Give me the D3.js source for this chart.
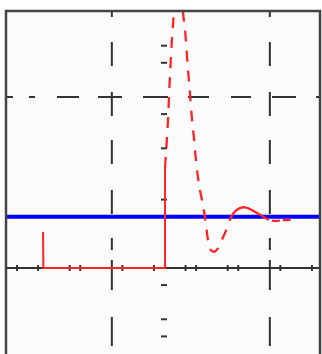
<!DOCTYPE html>
<html><head><meta charset="utf-8">
<script src="https://cdn.jsdelivr.net/npm/d3@7"></script>
<style>html,body{margin:0;padding:0;background:#fff;}svg{display:block;}</style>
</head><body>
<svg id="c" width="322" height="354"></svg>
<script>
// Oscilloscope-style trace, units in divisions
const redTime  = [-2.306,-2.30,0.01,0.01,0.066,0.10,0.14,0.18,0.265,0.35,0.39,0.446,0.484,0.52,0.56,0.598,0.636,0.674,0.73,0.79,0.825,0.88,0.94,1.016,1.09,1.17,1.24,1.32,1.43,1.53,1.62,1.74,1.85,1.96,2.10,2.23,2.34,2.44];
const redValue = [0.42,0,0,1.17,1.73,2.20,2.67,3.0,3.84,3.0,2.78,2.32,2.04,1.75,1.52,1.26,1.06,0.91,0.74,0.50,0.33,0.21,0.19,0.23,0.33,0.44,0.56,0.65,0.70,0.71,0.69,0.65,0.61,0.57,0.55,0.56,0.56,0.57];
const blueLevel = 0.6;
const xDomain = [-3, 3];
const yDomain = [0, 3];
const gridX = [-1, 2];          // dashed vertical cursor lines
const gridY = [2];              // dash-dot horizontal line
const axisXTicks = [-2.8,-2.4,-1.8,-1.6,-0.8,-0.2,0.4,0.6,1.2,1.4,2.2,2.8];
const axisYTicks = [2.6,2.4,1.8,1.4,0.8,-0.2,-0.6,-0.8];

const svg = d3.select("#c");
const x = d3.scaleLinear().domain(xDomain).range([6.5, 322.5]);
const y = d3.scaleLinear().domain(yDomain).range([268, 11.5]);
const L = 6, T = 11, R = 320, B = 360;

svg.append("rect").attr("x", L).attr("y", T).attr("width", R - L).attr("height", B - T).attr("fill", "#fbfbfb");
svg.append("clipPath").attr("id", "clp").append("rect").attr("x", L).attr("y", T).attr("width", R - L).attr("height", B - T);

const g = svg.append("g").attr("clip-path", "url(#clp)");

// vertical dashed lines
g.selectAll(".gx").data(gridX).join("line")
  .attr("x1", d => x(d)).attr("x2", d => x(d)).attr("y1", T).attr("y2", B)
  .attr("stroke", "#333").attr("stroke-width", 2)
  .attr("stroke-dasharray", "6,25,24,26,24,24,24,26,24,24,12,10,30,27,29,100");
// dash-dot horizontal
g.selectAll(".gy").data(gridY).join("line")
  .attr("x1", L).attr("x2", R).attr("y1", d => y(d)).attr("y2", d => y(d))
  .attr("stroke", "#333").attr("stroke-width", 2)
  .attr("stroke-dasharray", "7,16,6,22,22,19,24,21,25,20,21,22,20,21,24,20,4,50");

// horizontal axis line
g.append("line").attr("x1", L).attr("x2", R).attr("y1", y(0)).attr("y2", y(0))
  .attr("stroke", "#333").attr("stroke-width", 2);
g.selectAll(".tx").data(axisXTicks).join("line")
  .attr("x1", d => x(d)).attr("x2", d => x(d)).attr("y1", y(0) - 3).attr("y2", y(0) + 3)
  .attr("stroke", "#333").attr("stroke-width", 2);
// center vertical axis minor ticks
g.selectAll(".ty").data(axisYTicks).join("line")
  .attr("x1", x(0) - 3.5).attr("x2", x(0) + 2.5).attr("y1", d => y(d)).attr("y2", d => y(d))
  .attr("stroke", "#333").attr("stroke-width", 2);

// blue trace
g.append("line").attr("x1", L).attr("x2", R).attr("y1", y(blueLevel)).attr("y2", y(blueLevel))
  .attr("stroke", "#0000ff").attr("stroke-width", 4);

// red trace split into solid/dashed portions
const pts = redTime.map((t, i) => [t, redValue[i]]);
const line = d3.line().x(d => x(d[0])).y(d => y(d[1]));
const smooth = d3.line().x(d => x(d[0])).y(d => y(d[1])).curve(d3.curveCatmullRom.alpha(0.5));
const seg = (a, b) => pts.slice(a, b + 1);
const red = "#ff2424";
g.append("path").attr("d", line(seg(0, 3))).attr("fill", "none").attr("stroke", red).attr("stroke-width", 2);
g.append("path").attr("d", smooth(seg(3, 26))).attr("fill", "none").attr("stroke", red).attr("stroke-width", 2.3)
  .attr("stroke-dasharray", "11,9");
g.append("path").attr("d", smooth(seg(26, 32))).attr("fill", "none").attr("stroke", red).attr("stroke-width", 2.3);
g.append("path").attr("d", smooth(seg(32, 37))).attr("fill", "none").attr("stroke", red).attr("stroke-width", 2.3)
  .attr("stroke-dasharray", "8,3");

// frame (top, left, right)
svg.append("path").attr("d", `M${L},${B}V${T}H${R}V${B}`).attr("fill", "none")
  .attr("stroke", "#444").attr("stroke-width", 2.5);
</script>
</body></html>
